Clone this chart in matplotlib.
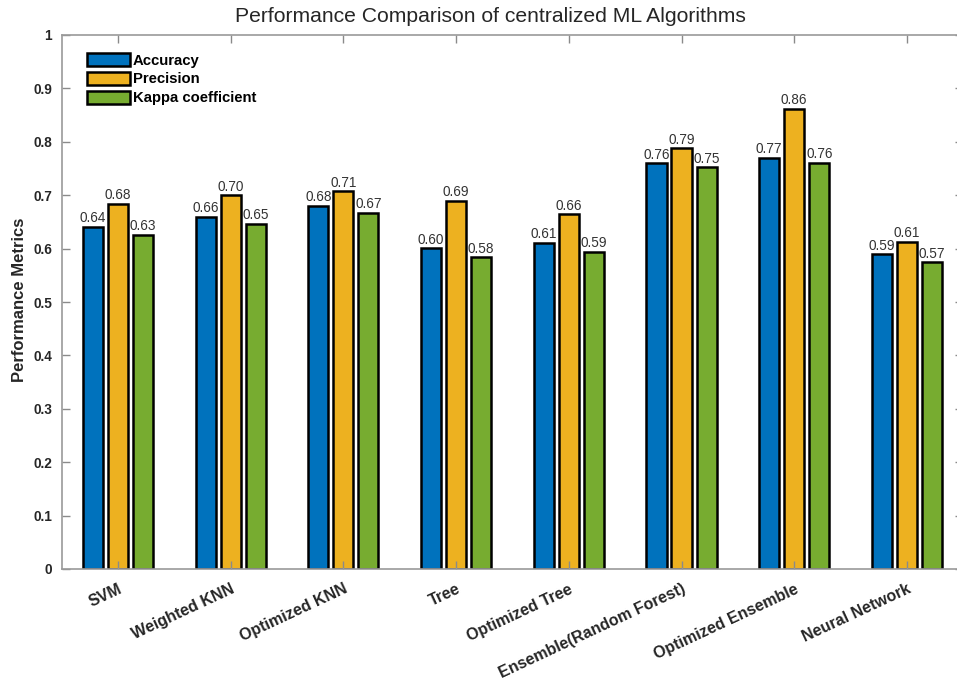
import matplotlib
matplotlib.use("Agg")
import matplotlib.pyplot as plt
import numpy as np
from matplotlib.transforms import ScaledTranslation

plt.rcParams['font.family'] = ['Liberation Sans', 'DejaVu Sans']

categories = ['SVM', 'Weighted KNN', 'Optimized KNN', 'Tree', 'Optimized Tree',
              'Ensemble(Random Forest)', 'Optimized Ensemble', 'Neural Network']
accuracy = [0.641, 0.660, 0.680, 0.601, 0.611, 0.760, 0.770, 0.590]
precision = [0.684, 0.700, 0.707, 0.690, 0.664, 0.788, 0.862, 0.613]
kappa = [0.626, 0.647, 0.667, 0.584, 0.594, 0.752, 0.761, 0.574]
series_names = ['Accuracy', 'Precision', 'Kappa coefficient']
yticks = [0, 0.1, 0.2, 0.3, 0.4, 0.5, 0.6, 0.7, 0.8, 0.9, 1]
ytick_labels = ['0', '0.1', '0.2', '0.3', '0.4', '0.5', '0.6', '0.7', '0.8', '0.9', '1']

colors = ['#0072BD', '#EDB120', '#77AC30']
W, H = 957, 687

fig = plt.figure(figsize=(W / 100, H / 100), dpi=100)
ax = fig.add_axes([61.6 / W, 1 - 569 / H, 901.7 / W, 534 / H])

x = np.arange(1, len(categories) + 1)
offsets = [-2 / 9, 0, 2 / 9]
width = 0.178

for vals, off, col, name in zip([accuracy, precision, kappa], offsets, colors, series_names):
    bars = ax.bar(x + off, vals, width, color=col, edgecolor='black',
                  linewidth=1.8, label=name)
    for b, v in zip(bars, vals):
        ax.annotate(f'{v:.2f}', (b.get_x() + b.get_width() / 2, v),
                    xytext=(0, 1), textcoords='offset points',
                    ha='center', va='bottom', fontsize=9.8, color='#333333')

ax.set_xlim(0.5, len(categories) + 0.5)
ax.set_ylim(0, 1)
ax.set_yticks(yticks)
ax.set_yticklabels(ytick_labels, fontsize=9.8, fontweight='bold', color='#262626')
ax.set_xticks(x)
ax.set_xticklabels(categories, rotation=25, ha='right', rotation_mode='anchor',
                   fontsize=11.5, fontweight='bold', color='#262626')
shift = ScaledTranslation(4 / 100, 0, fig.dpi_scale_trans)
for lbl in ax.get_xticklabels():
    lbl.set_transform(lbl.get_transform() + shift)

ax.tick_params(direction='in', length=6, width=1, color='#8a8a8a',
               top=True, right=True)
ax.tick_params(axis='y', pad=7)
ax.tick_params(axis='x', pad=9)
for sp in ax.spines.values():
    sp.set_color('#9a9a9a')
    sp.set_linewidth(1.2)

ax.set_ylabel('Performance Metrics', fontsize=12, fontweight='bold', color='#262626')
ax.yaxis.set_label_coords(-0.0384, 0.504)

fig.text(490 / W, 1 - 17 / H, 'Performance Comparison of centralized ML Algorithms',
         ha='center', va='center', fontsize=15.2, color='#262626')

ax.legend(loc='upper left', bbox_to_anchor=((87 - 61.6) / 901.7, (569 - 53) / 534),
          frameon=False, borderpad=0, borderaxespad=0, handlelength=2.9,
          handleheight=0.95, handletextpad=0.2, labelspacing=0.3,
          prop={'weight': 'bold', 'size': 10.7})

fig.savefig('out.png', dpi=100)
